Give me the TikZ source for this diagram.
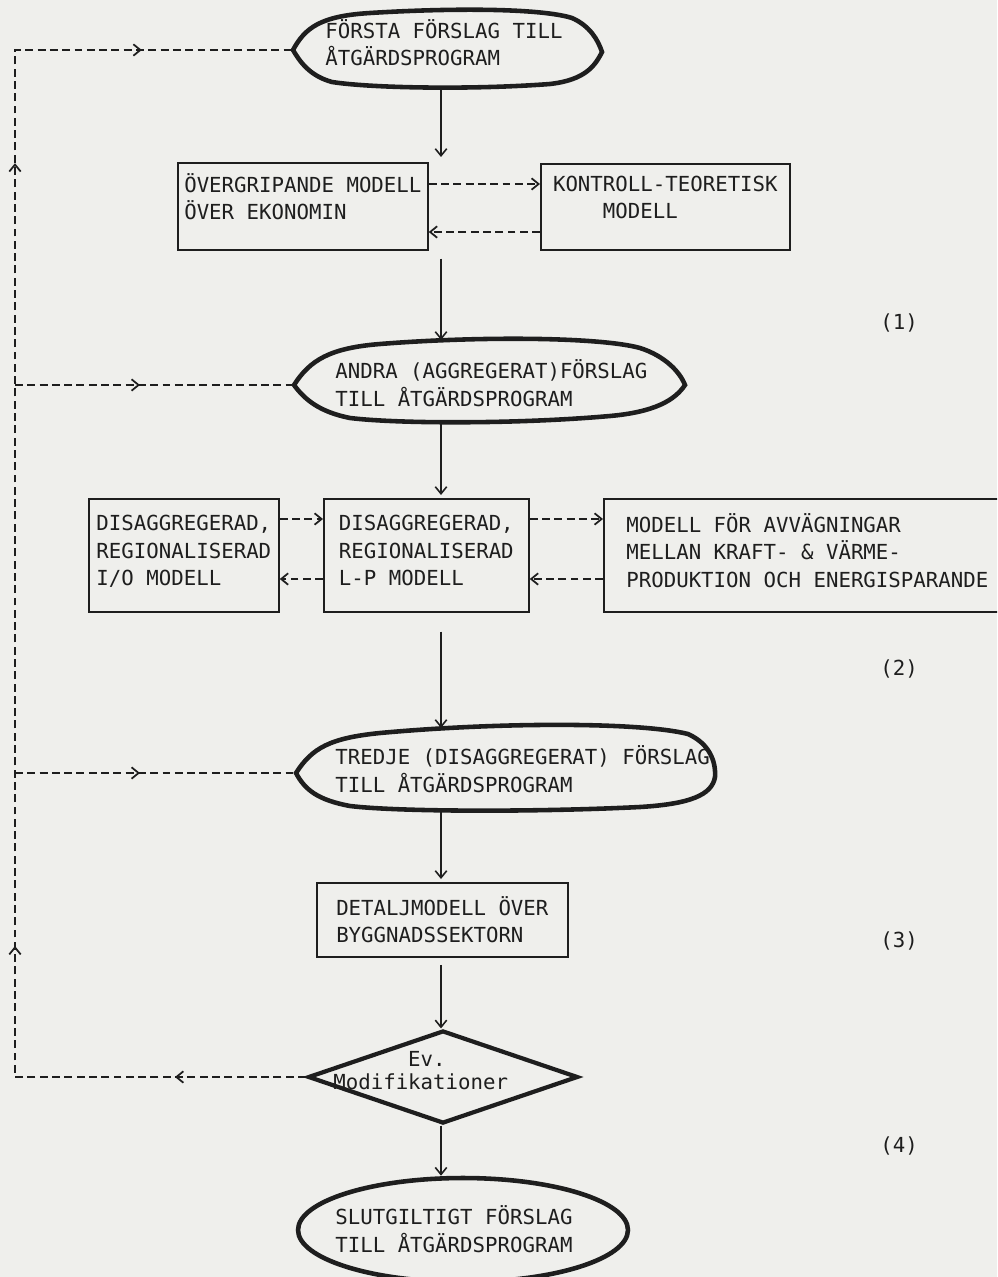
\documentclass[tikz,border=0pt]{standalone}
\usepackage{fontspec}
\setmonofont{DejaVu Sans Mono}
\usetikzlibrary{arrows.meta, shapes.geometric, decorations.markings}
\definecolor{paper}{RGB}{239,239,236}
\definecolor{ink}{RGB}{30,30,30}

\begin{document}
\begin{tikzpicture}[x=0.02cm, y=-0.02cm,
    >={Straight Barb[length=4pt,width=6.5pt]},
    every node/.style={font=\ttfamily\fontsize{11.8}{14.2}\selectfont, text=ink},
    loose/.style={font=\ttfamily\fontsize{11.8}{15.5}\selectfont},
    box/.style={draw=ink, line width=1pt, anchor=north west, align=left, inner sep=0pt, loose},
    txt/.style={anchor=base west, align=left, inner sep=0pt},
    lens/.style={draw=ink, line width=2.6pt, line join=miter},
    arr/.style={draw=ink, line width=0.9pt, ->},
    dasharr/.style={draw=ink, line width=1pt, dash pattern=on 4.5pt off 2.5pt, ->},
    fb/.style={draw=ink, line width=1pt, dash pattern=on 4.5pt off 2.5pt}
]

    % paper and frame
    \useasboundingbox (0,0) rectangle (997,1277);
    \clip (0,0) rectangle (997,1277);
    \fill[paper] (0,0) rectangle (997,1277);

    \coordinate (spine) at (441,0);  % the main flow runs down x = 441
    \coordinate (loop) at (15,0);    % the feedback line on the left

    % first proposal
    \draw[lens] (293,50) coordinate (forsta-w)
        .. controls (305,28) and (320,16) .. (370,13) .. controls (450,8) and (540,8) .. (572,18)
        .. controls (590,26) and (598,40) .. (602,52)
        .. controls (595,66) and (585,80) .. (550,84) .. controls (470,90) and (370,88) .. (332,82)
        .. controls (310,76) and (300,62) .. cycle;
    \node[txt, loose] (forsta) at (325,66) {FÖRSTA FÖRSLAG TILL\\ÅTGÄRDSPROGRAM};
    \coordinate (forsta-s) at (441,87);

    % stage (1): the two models
    \node[box, text depth=0.38cm, minimum width=5cm, minimum height=1.74cm] (overgrip) at (177,162) {ÖVERGRIPANDE MODELL\\ÖVER EKONOMIN};
    \node[box, text depth=0.38cm, minimum width=4.98cm, minimum height=1.72cm] (kontroll) at (540,163) {KONTROLL-TEORETISK\\\hphantom{KONT}MODELL};

    % second proposal
    \draw[lens] (294,385) coordinate (andra-w)
        .. controls (310,360) and (330,348) .. (380,344) .. controls (480,336) and (600,337) .. (640,348)
        .. controls (665,356) and (680,372) .. (685,385)
        .. controls (675,400) and (655,412) .. (610,416) .. controls (520,424) and (400,424) .. (350,418)
        .. controls (320,412) and (305,400) .. cycle;
    \node[txt, loose] (andra) at (335,406) {ANDRA (AGGREGERAT)FÖRSLAG\\TILL ÅTGÄRDSPROGRAM};
    \coordinate (andra-n) at (441,340);
    \coordinate (andra-s) at (441,421);

    % stage (2): the three models
    \node[box, text depth=0.2cm, minimum width=3.8cm, minimum height=2.26cm] (diA) at (88,498) {DISAGGREGERAD,\\REGIONALISERAD\\I/O MODELL};
    \node[box, text depth=0.2cm, minimum width=4.1cm, minimum height=2.26cm] (diB) at (323,498) {DISAGGREGERAD,\\REGIONALISERAD\\L-P MODELL};
    \node[box, text depth=0.2cm, minimum width=8.14cm, minimum height=2.26cm] (modC) at (603,498) {MODELL FÖR AVVÄGNINGAR\\MELLAN KRAFT- \& VÄRME-\\PRODUKTION OCH ENERGISPARANDE};

    % third proposal
    \draw[lens] (296,773) coordinate (tredje-w)
        .. controls (312,748) and (330,738) .. (380,733) .. controls (500,722) and (640,722) .. (688,734)
        .. controls (710,744) and (716,762) .. (715,777)
        .. controls (712,795) and (690,804) .. (640,807) .. controls (540,812) and (400,812) .. (350,806)
        .. controls (318,800) and (305,790) .. cycle;
    \node[txt, loose] (tredje) at (335,792) {TREDJE (DISAGGREGERAT) FÖRSLAG\\TILL ÅTGÄRDSPROGRAM};
    \coordinate (tredje-n) at (441,728);
    \coordinate (tredje-s) at (441,810);

    % stage (3) and (4)
    \node[box, minimum width=5.02cm, minimum height=1.48cm] (detalj) at (316,882) {DETALJMODELL ÖVER\\BYGGNADSSEKTORN};
    \node[draw=ink, line width=2.4pt, diamond, minimum width=5.4cm, minimum height=1.86cm, inner sep=0pt] (dia) at (443,1077) {};
    \node[txt, font=\ttfamily\fontsize{11.8}{13}\selectfont] (evmod) at (333,1089) {\hphantom{Modifi}Ev.\\Modifikationer};

    % final proposal
    \node[draw=ink, line width=2.6pt, ellipse, minimum width=6.6cm, minimum height=2.08cm, inner sep=0pt] (slut) at (463,1230) {};
    \node[txt, loose] (slutTxt) at (335,1252) {SLUTGILTIGT FÖRSLAG\\TILL ÅTGÄRDSPROGRAM};

    % stage numbers
    \node[txt] (lab1) at (880,329) {(1)};
    \node[txt] (lab2) at (880,675) {(2)};
    \node[txt] (lab3) at (880,947) {(3)};
    \node[txt] (lab4) at (880,1152) {(4)};

    % main flow
    \draw[arr, shorten >=0.1cm] (forsta-s) -- (spine |- overgrip.north);
    \draw[arr, shorten <=0.16cm] (spine |- overgrip.south) -- (andra-n);
    \draw[arr, shorten >=0.06cm] (andra-s) -- (spine |- diB.north);
    \draw[arr, shorten <=0.38cm] (spine |- diB.south) -- (tredje-n);
    \draw[arr, shorten >=0.06cm] (tredje-s) -- (spine |- detalj.north);
    \draw[arr, shorten <=0.14cm] (spine |- detalj.south) -- (spine |- dia.north);
    \draw[arr] (spine |- dia.south) -- (spine |- slut.north);

    % exchanges between the models
    \draw[dasharr] (overgrip.east |- 0,184) -- (kontroll.west |- 0,184);
    \draw[dasharr] (kontroll.west |- 0,232) -- (overgrip.east |- 0,232);
    \draw[dasharr] (diA.east |- 0,519) -- (diB.west |- 0,519);
    \draw[dasharr] (diB.west |- 0,579) -- (diA.east |- 0,579);
    \draw[dasharr] (diB.east |- 0,519) -- (modC.west |- 0,519);
    \draw[dasharr] (modC.west |- 0,579) -- (diB.east |- 0,579);

    % feedback from the modifications
    \draw[fb, postaction={decorate}, decoration={markings,
            mark=at position 2.62cm with {\arrow{>}},
            mark=at position 8.44cm with {\arrow{>}},
            mark=at position 24.1cm with {\arrow{>}},
            mark=at position 28.9cm with {\arrow{>}}}]
        (dia.west) -- (loop |- dia.west) -- (loop |- forsta-w) -- (forsta-w);
    \draw[fb, postaction={decorate}, decoration={markings, mark=at position 2.5cm with {\arrow{>}}}]
        (loop |- andra-w) -- (andra-w);
    \draw[fb, postaction={decorate}, decoration={markings, mark=at position 2.5cm with {\arrow{>}}}]
        (loop |- tredje-w) -- (tredje-w);

\end{tikzpicture}
\end{document}
